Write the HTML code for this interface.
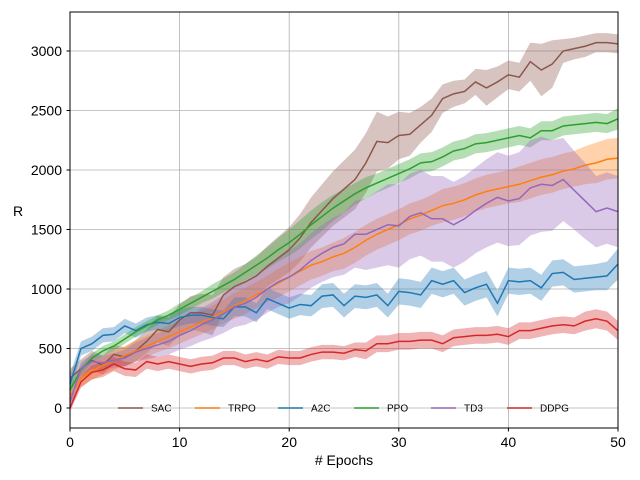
<!DOCTYPE html>
<html><head><meta charset="utf-8"><style>
html,body{margin:0;padding:0;background:#fff;}
svg{display:block;font-family:"Liberation Sans","DejaVu Sans",sans-serif;}
</style></head><body>
<svg id="chart" width="640" height="480" viewBox="0 0 640 480">
<g id="grid"></g>
<g id="bands"></g>
<g id="lines"></g>
<rect x="70" y="12" width="548" height="416" fill="none" stroke="#000" stroke-width="1"/>
<g id="ticks"></g>
<g id="legend"></g>
<text x="18" y="216" font-size="14" text-anchor="middle">R</text>
<text x="344" y="465" font-size="14" text-anchor="middle"># Epochs</text>
</svg>
<script>
const xTicks=[0,10,20,30,40,50];
const yTicks=[0,500,1000,1500,2000,2500,3000];
const names=["SAC","TRPO","A2C","PPO","TD3","DDPG"];
const colors=["#8c564b","#ff7f0e","#1f77b4","#2ca02c","#9467bd","#d62728"];
const sac=[250,330,400,360,450,430,480,560,660,640,740,800,800,780,950,1020,1060,1110,1190,1260,1330,1430,1560,1660,1760,1840,1920,2060,2240,2230,2290,2300,2380,2460,2600,2640,2660,2740,2690,2740,2800,2780,2910,2840,2890,3000,3020,3040,3070,3070,3060];
const sacSd=[80,80,80,80,80,80,90,100,110,120,130,140,160,170,150,150,150,160,170,180,190,200,210,220,230,240,250,250,250,220,200,180,150,140,120,110,100,110,150,130,120,120,160,220,200,100,90,90,80,80,80];
const trpo=[100,250,310,360,400,440,480,520,560,600,640,680,720,760,810,860,900,950,1000,1050,1100,1150,1200,1230,1270,1300,1350,1410,1460,1500,1540,1590,1620,1660,1700,1720,1750,1790,1820,1840,1860,1880,1910,1940,1960,1990,2010,2040,2060,2090,2100];
const trpoSd=[60,70,70,80,80,80,90,90,90,100,100,100,100,100,100,110,110,110,110,120,120,120,120,120,120,130,130,130,130,130,130,130,130,130,140,140,140,140,140,140,140,150,150,150,150,150,150,160,170,170,170];
const a2c=[200,500,540,610,620,690,650,700,720,710,760,780,780,760,750,850,850,800,920,880,840,870,860,940,950,860,940,930,950,860,980,970,950,1070,1040,1070,970,1010,1040,880,1070,1060,1070,1010,1130,1140,1080,1090,1100,1110,1210];
const a2cSd=[80,60,60,60,60,60,60,60,60,60,70,70,70,70,70,80,80,80,90,90,90,90,90,100,100,100,100,100,100,100,110,110,110,110,110,110,110,110,110,110,110,110,110,110,110,110,110,110,110,120,130];
const ppo=[150,320,420,480,520,580,640,690,740,780,830,880,930,980,1030,1080,1140,1200,1260,1330,1390,1460,1540,1610,1680,1740,1800,1850,1890,1930,1970,2010,2060,2070,2110,2160,2180,2220,2230,2250,2270,2290,2270,2330,2330,2370,2380,2390,2400,2390,2430];
const ppoSd=[40,40,40,40,40,40,40,40,40,40,50,50,50,60,60,60,70,80,90,100,110,120,120,120,110,100,90,90,80,80,80,80,80,80,80,80,80,80,80,80,80,80,80,80,80,80,80,80,80,80,90];
const td3=[50,330,390,380,400,420,470,500,530,560,610,650,700,740,790,850,880,930,1000,1060,1100,1160,1240,1300,1350,1380,1460,1460,1500,1540,1530,1610,1640,1590,1590,1540,1590,1660,1720,1770,1740,1760,1850,1880,1870,1920,1830,1740,1650,1680,1650];
const td3Sd=[60,60,60,60,60,70,80,90,100,110,120,130,140,150,160,170,180,190,200,210,220,220,230,240,250,260,280,300,320,340,350,360,360,360,360,360,360,360,370,380,380,390,400,400,380,350,330,320,300,300,300];
const ddpg=[0,220,300,320,370,330,320,390,370,390,370,350,370,380,420,420,390,410,390,430,420,420,450,470,470,460,490,480,540,540,560,560,570,570,540,590,600,610,610,620,600,650,650,670,690,700,690,730,750,730,650];
const ddpgSd=[30,50,60,60,60,60,60,60,60,60,60,60,60,60,60,60,60,60,60,60,60,60,60,60,60,60,60,70,70,70,70,70,70,70,70,70,70,70,70,70,70,70,70,70,70,70,70,80,80,80,80];
const series=[sac,trpo,a2c,ppo,td3,ddpg];
const sds=[sacSd,trpoSd,a2cSd,ppoSd,td3Sd,ddpgSd];
const NS="http://www.w3.org/2000/svg";
const X=v=>70+v*548/50;
const Y=v=>408-v*0.119;
function mk(tag,attrs,parent){const e=document.createElementNS(NS,tag);for(const k in attrs)e.setAttribute(k,attrs[k]);parent.appendChild(e);return e;}
const grid=document.getElementById('grid'),ticks=document.getElementById('ticks');
xTicks.forEach(t=>{
 const l=mk('line',{x1:X(t),x2:X(t),y1:12,y2:428,stroke:'#b0b0b0','stroke-width':0.8},grid);
 
 
 const tk=mk('line',{x1:X(t),x2:X(t),y1:428,y2:431.5,stroke:'#000'},ticks);
 
 
 const tx=mk('text',{x:X(t),y:447,'font-size':14,'text-anchor':'middle'},ticks);tx.textContent=t;
 
 
});
yTicks.forEach(t=>{
 const l=mk('line',{x1:70,x2:618,y1:Y(t),y2:Y(t),stroke:'#b0b0b0','stroke-width':0.8},grid);
 
 
 const tk=mk('line',{x1:66.5,x2:70,y1:Y(t),y2:Y(t),stroke:'#000'},ticks);
 
 
 const tx=mk('text',{x:62,y:Y(t)+5,'font-size':14,'text-anchor':'end'},ticks);tx.textContent=t;
 
 
});
const bands=document.getElementById('bands'),lines=document.getElementById('lines');
series.forEach((s,i)=>{
 const sd=sds[i];
 let up=s.map((v,j)=>X(j)+','+Y(v+sd[j]));
 let lo=s.map((v,j)=>X(j)+','+Y(v-sd[j])).reverse();
 const b=mk('polygon',{points:up.concat(lo).join(' '),fill:colors[i],'fill-opacity':0.35,stroke:'none'},bands);
 
 
});
series.forEach((s,i)=>{
 const p=mk('polyline',{points:s.map((v,j)=>X(j)+','+Y(v)).join(' '),fill:'none',stroke:colors[i],'stroke-width':1.5},lines);
 
 
});
const legend=document.getElementById('legend');
const lx=[118,195,278,354,431,507];
names.forEach((n,i)=>{
 const g=mk('g',{},legend);
 
 
 mk('line',{x1:lx[i],x2:lx[i]+25,y1:408,y2:408,stroke:colors[i],'stroke-width':2,'stroke-opacity':0.7},g);
 const t=mk('text',{x:lx[i]+33,y:411.5,'font-size':10},g);t.textContent=n;
});
</script>
</body></html>
